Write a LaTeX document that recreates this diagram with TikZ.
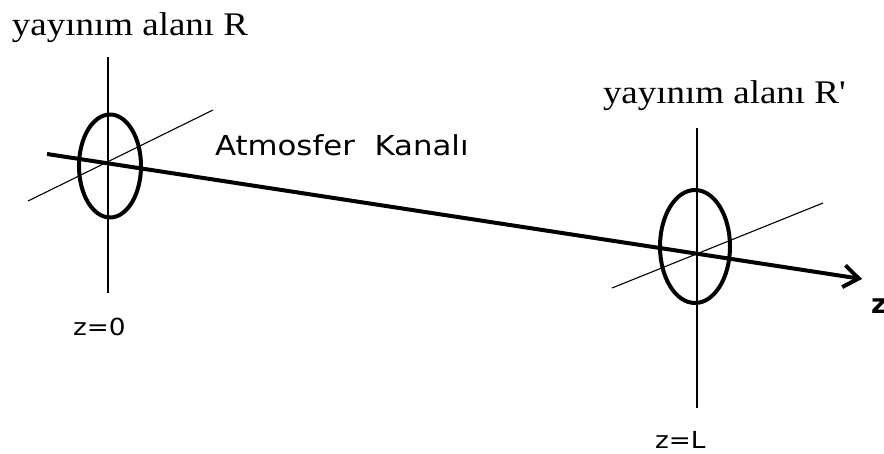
\documentclass[tikz,border=0pt]{standalone}
\usepackage{fontspec}
\setmainfont{Liberation Serif}
\newfontfamily\sansf{DejaVu Sans}
\usetikzlibrary{arrows.meta}
\tikzset{
  lbl/.style={anchor=base west, inner sep=0pt, outer sep=0pt},
  serifl/.style={lbl, font=\fontsize{33}{36}\selectfont},
  sansl/.style={lbl, font=\sansf\fontsize{27.5}{30}\selectfont},
  zl/.style={lbl, font=\sansf\fontsize{23.5}{26}\selectfont},
  axisv/.style={line width=1.6pt},
  axisd/.style={line width=1.1pt},
  aperture/.style={line width=4pt},
  beam/.style={line width=4pt, -{Straight Barb[length=15pt, width=22pt, line width=4pt]}}
}
\newcommand{\wide}[1]{\scalebox{1.12}[1]{#1}}
\begin{document}
\begin{tikzpicture}[x=1pt, y=-1pt]
  \useasboundingbox (0,0) rectangle (884,453);
  % left plane
  \coordinate (lvt) at (108,57);
  \coordinate (lvb) at (108,293);
  \coordinate (ldl) at (28,201);
  \coordinate (ldr) at (213,110);
  \draw[axisv] (lvt) -- (lvb);
  \draw[axisd] (ldl) -- (ldr);
  \draw[aperture] (110,166) ellipse [x radius=31pt, y radius=51.5pt];
  % right plane
  \coordinate (rvt) at (697,128);
  \coordinate (rvb) at (697,408);
  \coordinate (rdl) at (612,288);
  \coordinate (rdr) at (823,203);
  \draw[axisv] (rvt) -- (rvb);
  \draw[axisd] (rdl) -- (rdr);
  \draw[aperture] (695,246.5) ellipse [x radius=35pt, y radius=56.5pt];
  % beam
  \coordinate (bs) at (47,154);
  \coordinate (be) at (862,279);
  \draw[beam] (bs) -- (be);
  % labels
  \node[serifl] (tR) at (12,35) {\wide{yayınım alanı R}};
  \node[serifl] (tRp) at (603,103) {\wide{yayınım alanı R\textquotesingle}};
  \node[sansl] (tA) at (215,155) {\wide{Atmosfer\ \ Kanalı}};
  \node[zl] (z0) at (73,335) {\wide{z=0}};
  \node[zl] (zL) at (655,448) {\wide{z=L}};
  \node[lbl, font=\sansf\bfseries\fontsize{27}{30}\selectfont] (zz) at (871,313) {z};
\end{tikzpicture}
\end{document}
